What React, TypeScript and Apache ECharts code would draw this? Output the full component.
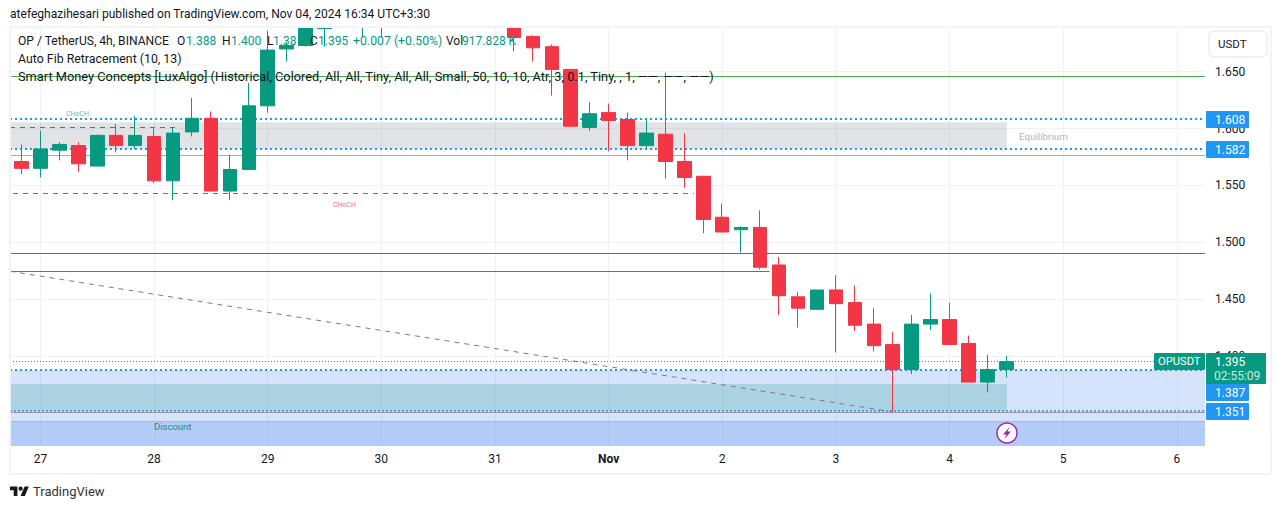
import React, { useEffect, useRef } from "react";
import * as echarts from "echarts";

// Candle slots are 4-hour bars; null = the bar lies above the visible range and cannot be read.
const opens: (number | null)[] = [1.571,1.565,1.581,1.585,1.567,1.594,1.585,1.593,1.554,1.597,1.609,1.545,1.564,1.620,1.670,1.673,1.688,null,1.700,1.700,null,null,null,null,null,null,1.700,1.681,1.672,1.652,1.601,1.614,1.608,1.585,1.595,1.571,1.558,1.522,1.511,1.513,1.480,1.452,1.441,1.458,1.447,1.428,1.410,1.388,1.428,1.432,1.411,1.377,1.388];
const closes: (number | null)[] = [1.565,1.582,1.586,1.569,1.594,1.585,1.594,1.554,1.596,1.609,1.545,1.564,1.620,1.669,1.673,1.700,1.705,null,1.705,1.705,null,null,null,null,null,null,1.680,1.671,1.652,1.602,1.613,1.607,1.585,1.596,1.571,1.557,1.520,1.509,1.513,1.478,1.453,1.442,1.458,1.446,1.427,1.409,1.388,1.428,1.432,1.410,1.377,1.388,1.395];
const highs: (number | null)[] = [1.586,1.598,1.588,1.588,1.595,1.604,1.611,1.600,1.601,1.627,1.615,1.577,1.640,1.686,1.676,1.705,1.712,null,1.710,1.710,null,null,null,null,null,null,1.705,1.682,1.674,1.652,1.623,1.622,1.614,1.608,1.649,1.596,1.558,1.534,1.514,1.528,1.487,1.456,1.458,1.471,1.462,1.442,1.421,1.436,1.455,1.447,1.418,1.401,1.400];
const lows: (number | null)[] = [1.560,1.557,1.572,1.562,1.567,1.579,1.582,1.552,1.537,1.593,1.545,1.537,1.564,1.614,1.659,1.672,1.672,null,1.680,1.680,null,null,null,null,null,null,1.668,1.659,1.629,1.601,1.598,1.580,1.572,1.582,1.556,1.548,1.508,1.509,1.491,1.476,1.436,1.425,1.441,1.403,1.422,1.404,1.351,1.384,1.423,1.410,1.377,1.368,1.381];

const dayTicks = [1, 7, 13, 19, 25, 31, 37, 43, 49, 55, 61];
const dayLabels = ["27", "28", "29", "30", "31", "Nov", "2", "3", "4", "5", "6"];
const priceTicks = [1.4, 1.45, 1.5, 1.55, 1.6, 1.65];

const GREEN = "#089981";
const RED = "#f23645";
const BLUE = "#2196f3";
const LINE_RED = "#e53935";
const INK = "#131722";
const X_MIN = -0.607;
const X_MAX = 62.49;
const Y_MIN = 1.3208;
const Y_MAX = 1.6893;
const FONT = "Roboto, sans-serif";

echarts.graphic.registerShape(
  "tvLogo",
  echarts.graphic.extendPath(
    "M14 22H7V11H0V4h14v18zM28 22h-8l7.5-18h8L28 22zM24 8a4 4 0 1 1-8 0 4 4 0 0 1 8 0z",
    {}
  )
);

const level = (
  from: number,
  to: number,
  p1: number,
  p2: number,
  color: string,
  width: number,
  type: any
) => ({
  type: "line",
  z: 3,
  silent: true,
  showSymbol: false,
  symbol: "none",
  data: [[from, p1], [to, p2]],
  lineStyle: { color, width, type },
});

const txt = (x: number, y: number, text: string, fill: string, size = 12, extra: any = {}) => ({
  type: "text",
  z: 100,
  x,
  y,
  silent: true,
  style: { text, fill, font: `${size}px ${FONT}`, textVerticalAlign: "middle", textBaseline: "middle", ...extra },
});

const tag = (x: number, y: number, w: number, h: number, fill: string) => ({
  type: "rect",
  z: 99,
  silent: true,
  shape: { x, y, width: w, height: h, r: 1 },
  style: { fill },
});

export default function App() {
  const ref = useRef<HTMLDivElement>(null);
  useEffect(() => {
    document.body.style.margin = "0";
    const chart = echarts.init(ref.current!, null, { renderer: "svg" });
    const candles = opens
      .map((o, i) => (o === null ? null : [i, o, closes[i], lows[i], highs[i]]))
      .filter(Boolean);
    chart.setOption({
      animation: false,
      backgroundColor: "#ffffff",
      grid: { left: 10, right: 76, top: 27, bottom: 63 },
      xAxis: {
        type: "value",
        min: X_MIN,
        max: X_MAX,
        axisLine: { show: false },
        axisTick: { show: false, customValues: dayTicks },
        splitLine: { show: true, lineStyle: { color: "#f0f1f4", width: 1 } },
        axisLabel: {
          customValues: dayTicks,
          color: INK,
          fontSize: 12,
          fontFamily: FONT,
          margin: 7,
          hideOverlap: false,
          formatter: (v: number) => {
            const s = dayLabels[dayTicks.indexOf(Math.round(v))] ?? "";
            return s === "Nov" ? `{b|${s}}` : s;
          },
          rich: { b: { fontWeight: 700, fontSize: 12, fontFamily: FONT, color: INK } },
        },
      },
      yAxis: {
        type: "value",
        position: "right",
        min: Y_MIN,
        max: Y_MAX,
        axisLine: { show: false },
        axisTick: { show: false, customValues: priceTicks },
        splitLine: { show: true, lineStyle: { color: "#f0f1f4", width: 1 } },
        axisLabel: {
          customValues: priceTicks,
          color: INK,
          fontSize: 12,
          fontFamily: FONT,
          margin: 10,
          formatter: (v: number) => v.toFixed(3),
        },
      },
      series: [
        {
          type: "line",
          z: 2,
          silent: true,
          data: [],
          markArea: {
            silent: true,
            label: { show: false },
            data: [
              [{ coord: [X_MIN, 1.6055], itemStyle: { color: "rgba(105,115,130,0.2)" } }, { coord: [52.03, 1.582] }],
              [{ coord: [X_MIN, 1.3876], itemStyle: { color: "rgba(45,115,245,0.2)" } }, { coord: [X_MAX, 1.3208] }],
              [{ coord: [X_MIN, 1.3428], itemStyle: { color: "rgba(44,116,242,0.2)" } }, { coord: [X_MAX, 1.3208] }],
              [{ coord: [X_MIN, 1.3753], itemStyle: { color: "rgba(53,163,149,0.25)" } }, { coord: [52.03, 1.3516] }],
            ],
          },
        },
        level(X_MIN, X_MAX, 1.64577, 1.64577, "#4caf50", 1, "solid"),
        level(X_MIN, X_MAX, 1.57629, 1.57629, "#81c784", 1, "solid"),
        level(X_MIN, X_MAX, 1.4901, 1.4901, LINE_RED, 1, "solid"),
        level(X_MIN, 39.5, 1.47427, 1.47427, LINE_RED, 1, "solid"),
        level(X_MIN, X_MAX, 1.34235, 1.34235, "#9bbcf0", 1, "solid"),
        level(X_MIN, X_MAX, 1.35026, 1.35026, "#9a9da8", 1, "solid"),
        level(X_MIN, 8.2, 1.60091, 1.60091, GREEN, 1, [5, 5]),
        level(-0.45, 35.5, 1.54287, 1.54287, RED, 1, [5, 5]),
        level(X_MIN, 46, 1.4745, 1.3508, "#787b86", 1, [5, 5]),
        level(X_MIN, X_MAX, 1.39512, 1.39512, GREEN, 1, [1, 2]),
        level(X_MIN, X_MAX, 1.60839, 1.60839, BLUE, 2, [2, 3]),
        level(X_MIN, X_MAX, 1.58201, 1.58201, BLUE, 2, [2, 3]),
        level(X_MIN, X_MAX, 1.38764, 1.38764, BLUE, 2, [2, 3]),
        level(X_MIN, X_MAX, 1.35159, 1.35159, BLUE, 1.5, [2, 2]),
        {
          type: "candlestick",
          z: 5,
          silent: true,
          barWidth: 14,
          encode: { x: 0, y: [1, 2, 3, 4] },
          data: candles,
          itemStyle: {
            color: GREEN,
            color0: RED,
            borderColor: GREEN,
            borderColor0: RED,
            borderWidth: 1,
          },
        },
      ],
      graphic: [
        { type: "rect", z: 50, silent: true, shape: { x: 0, y: 0, width: 1281, height: 26 }, style: { fill: "#ffffff" } },
        { type: "rect", z: 51, silent: true, shape: { x: 10, y: 27, width: 1261, height: 447 }, style: { fill: "none", stroke: "#f0f3fa", lineWidth: 2 } },
        txt(10, 14, "atefeghazihesari published on TradingView.com, Nov 04, 2024 16:34 UTC+3:30", INK, 12.05),
        txt(18, 41, "OP / TetherUS, 4h, BINANCE", INK, 12.1),
        txt(177, 41, "O", INK), txt(186, 41, "1.388", GREEN),
        txt(222, 41, "H", INK), txt(231, 41, "1.400", GREEN),
        txt(267, 41, "L", INK), txt(273, 41, "1.381", GREEN),
        txt(310, 41, "C", INK), txt(318, 41, "1.395", GREEN),
        txt(353, 41, "+0.007 (+0.50%)", GREEN, 12.3),
        txt(446, 41, "Vol", INK), txt(462, 41, "917.828 K", GREEN),
        txt(18, 59, "Auto Fib Retracement (10, 13)", INK, 12.35),
        txt(18, 76, "Smart Money Concepts [LuxAlgo] (Historical, Colored, All, All, Tiny, All, All, Small, 50, 10, 10, Atr, 3, 0.1, Tiny, , 1, \u2014\u2014, \u2014\u2014, \u2014\u2014)", INK, 12.8),
        txt(66, 114, "CHoCH", "#5cc0ae", 7),
        txt(333, 205, "CHoCH", "#f7727d", 7),
        txt(1019, 136, "Equilibrium", "#b2b5be", 9.8),
        txt(154, 426, "Discount", GREEN, 9.5),
        { type: "rect", z: 99, silent: true, shape: { x: 1209, y: 31, width: 58, height: 26, r: 5 }, style: { fill: "#fff", stroke: "#e0e3eb", lineWidth: 1 } },
        txt(1218, 44, "USDT", INK, 11.5),
        tag(1206, 111, 43, 17, BLUE), txt(1215, 119.5, "1.608", "#fff"),
        tag(1206, 141, 43, 17, BLUE), txt(1215, 149.5, "1.582", "#fff"),
        tag(1154, 353, 51, 17, GREEN), txt(1158, 361.5, "OPUSDT", "#fff", 11.2),
        tag(1206, 353, 60, 31, GREEN), txt(1215, 361.5, "1.395", "#fff"), txt(1214, 376, "02:55:09", "#cdeae5"),
        tag(1206, 384, 43, 17, BLUE), txt(1215, 393, "1.387", "#fff"),
        tag(1206, 403, 43, 17, BLUE), txt(1215, 412, "1.351", "#fff"),
        { type: "circle", z: 99, silent: true, shape: { cx: 1007, cy: 433, r: 10 }, style: { fill: "#fff", stroke: "#9c27b0", lineWidth: 1.5 } },
        { type: "polygon", z: 100, silent: true, shape: { points: [[1009.5, 427], [1003, 434.5], [1006.5, 434.5], [1004.5, 439], [1011, 431.5], [1007.5, 431.5]] }, style: { fill: "#9c27b0" } },
        { type: "tvLogo", z: 100, x: 10, y: 484.4, scaleX: 0.53, scaleY: 0.53, silent: true, style: { fill: INK } },
        txt(33, 491.5, "TradingView", "#333", 13),
      ],
    });
    return () => chart.dispose();
  }, []);
  return <div ref={ref} style={{ position: "absolute", left: 0, top: 0, width: 1281, height: 509 }} />;
}
